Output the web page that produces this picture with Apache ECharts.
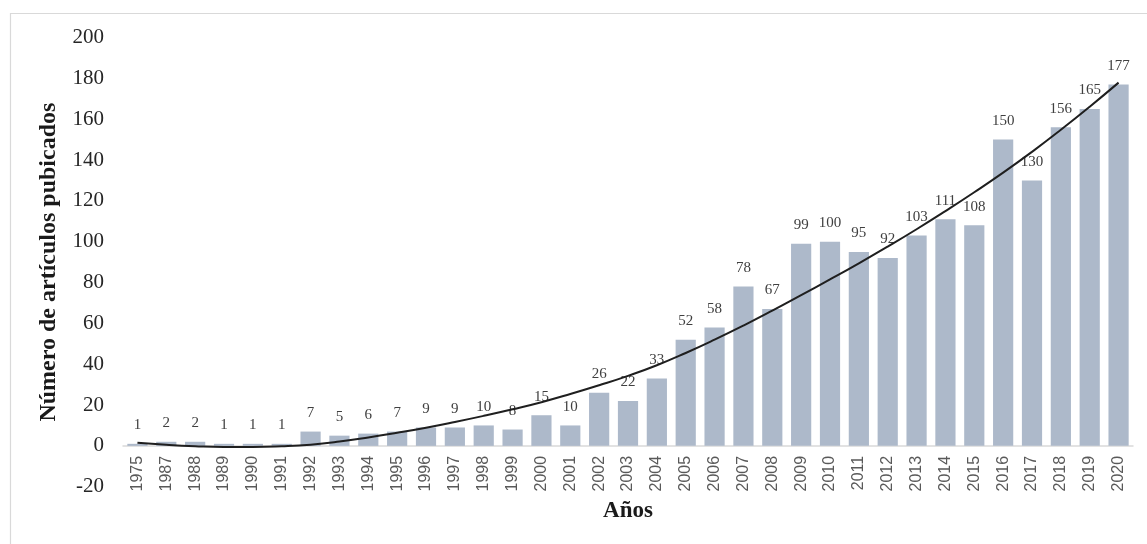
<!DOCTYPE html>
<html>
<head>
<meta charset="utf-8">
<script src="https://cdn.jsdelivr.net/npm/echarts@6/dist/echarts.min.js"></script>
<style>
  html, body { margin: 0; padding: 0; background: #ffffff; }
  #chart { width: 1147px; height: 544px; }
</style>
</head>
<body>
<div id="chart"></div>
<script>
// Publication years
const years = ['1975', '1987', '1988', '1989', '1990', '1991', '1992', '1993', '1994', '1995',
  '1996', '1997', '1998', '1999', '2000', '2001', '2002', '2003', '2004', '2005',
  '2006', '2007', '2008', '2009', '2010', '2011', '2012', '2013', '2014', '2015',
  '2016', '2017', '2018', '2019', '2020'];

// Articles published per year
const articles = [1, 2, 2, 1, 1, 1, 7, 5, 6, 7,
  9, 9, 10, 8, 15, 10, 26, 22, 33, 52,
  58, 78, 67, 99, 100, 95, 92, 103, 111, 108,
  150, 130, 156, 165, 177];

// Trend curve values at each year
const trend = [1.5, 0.5, -0.2, -0.55, -0.55, -0.2, 0.6, 2.1, 4.1, 6.4,
  8.9, 11.7, 14.7, 17.9, 21.4, 25.4, 29.7, 34.3, 39.5, 45.5,
  52.0, 58.9, 66.2, 73.8, 81.5, 89.4, 97.6, 106.1, 115.0, 124.2,
  133.8, 144.0, 154.8, 166.1, 177.9];

// Value axis range
const yMin = -20, yMax = 200, yStep = 20;

const serif = '"Liberation Serif", "Times New Roman", serif';
const sans = '"Liberation Sans", Arial, sans-serif';

const gridTop = 37.5, gridBottom = 57.3, chartH = 544;
// Distance from the bottom of the plot up to the zero line
const zeroLift = (chartH - gridTop - gridBottom) * (0 - yMin) / (yMax - yMin);

const chart = echarts.init(document.getElementById('chart'), null, { renderer: 'canvas' });

chart.setOption({
  backgroundColor: '#ffffff',
  animation: false,
  graphic: [{
    type: 'rect',
    left: 8, top: 11,
    shape: { width: 1300, height: 700 },
    style: { fill: 'none', stroke: '#d9d9d9', lineWidth: 1.2 },
    silent: true
  }],
  grid: {
    left: 123, right: 14, top: gridTop, bottom: gridBottom,
    containLabel: false,
    outerBoundsMode: 'none'
  },
  xAxis: {
    type: 'category',
    data: years,
    offset: -zeroLift,
    name: 'Años',
    nameLocation: 'middle',
    nameGap: 53,
    nameTextStyle: { fontFamily: serif, fontWeight: 'bold', fontSize: 23, color: '#1a1a1a' },
    axisLine: { onZero: false, lineStyle: { color: '#d9d9d9', width: 1.5 } },
    axisTick: { show: false },
    axisLabel: { rotate: 90, fontFamily: sans, fontSize: 16, color: '#595959', margin: 10 }
  },
  yAxis: {
    type: 'value',
    min: yMin, max: yMax, interval: yStep,
    name: 'Número de artículos pubicados',
    nameLocation: 'middle',
    nameGap: 62,
    nameTextStyle: { fontFamily: serif, fontWeight: 'bold', fontSize: 24, color: '#1a1a1a' },
    axisLine: { show: false },
    axisTick: { show: false },
    splitLine: { show: false },
    axisLabel: { fontFamily: serif, fontSize: 21, color: '#262626', margin: 19 }
  },
  series: [{
    type: 'bar',
    data: articles,
    barCategoryGap: '30%',
    itemStyle: { color: '#adb9ca' },
    label: {
      show: true, position: 'top', distance: 11,
      fontFamily: serif, fontSize: 15, color: '#404040'
    },
    z: 2
  }, {
    type: 'line',
    data: trend,
    smooth: true,
    symbol: 'none',
    lineStyle: { color: '#1f1f1f', width: 2 },
    z: 3
  }]
});
</script>
</body>
</html>
